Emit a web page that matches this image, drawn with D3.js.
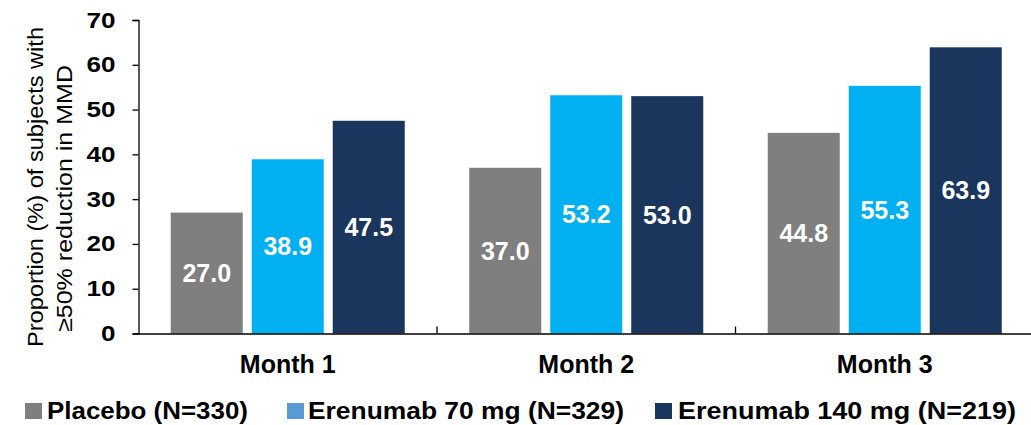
<!DOCTYPE html>
<html>
<head>
<meta charset="utf-8">
<script src="https://cdn.jsdelivr.net/npm/d3@7"></script>
<style>
  body { margin: 0; background: #fff; }
  svg { display: block; font-family: "Liberation Sans", Arial, sans-serif; }
</style>
</head>
<body>
<svg id="chart" width="1031" height="425"></svg>
<script>
const months = ["Month 1", "Month 2", "Month 3"];
const seriesNames = ["Placebo (N=330)", "Erenumab 70 mg (N=329)", "Erenumab 140 mg (N=219)"];
const placebo = [27.0, 37.0, 44.8];
const erenumab70 = [38.9, 53.2, 55.3];
const erenumab140 = [47.5, 53.0, 63.9];
const yTicks = [0, 10, 20, 30, 40, 50, 60, 70];

const barColors = ["#7f7f7f", "#00b0f0", "#1b365d"];
const legendColors = ["#7f7f7f", "#5b9bd5", "#1b365d"];
const seriesValues = [placebo, erenumab70, erenumab140];

const svg = d3.select("#chart");
const plotLeft = 138.5, plotRight = 1034, plotTop = 20, plotBottom = 333.5;

const x0 = d3.scaleBand().domain(months).range([plotLeft, plotRight]).paddingInner(0).paddingOuter(0);
const x1 = d3.scaleBand().domain(d3.range(3)).range([0, x0.bandwidth()]).paddingInner(0.111).paddingOuter(0.398);
const y = d3.scaleLinear().domain([0, 70]).range([plotBottom, plotTop]);

// bars and value labels
const groups = svg.append("g").selectAll("g").data(months).join("g")
  .attr("transform", d => `translate(${x0(d)},0)`);

groups.each(function(m, mi) {
  const g = d3.select(this);
  seriesValues.forEach((vals, si) => {
    const v = vals[mi];
    g.append("rect")
      .attr("x", x1(si)).attr("width", x1.bandwidth())
      .attr("y", y(v)).attr("height", y(0) - y(v))
      .attr("fill", barColors[si]);
    g.append("text")
      .attr("x", x1(si) + x1.bandwidth() / 2)
      .attr("y", (y(v) + y(0)) / 2)
      .attr("dy", "0.36em")
      .attr("text-anchor", "middle")
      .attr("fill", "#fff")
      .attr("font-weight", "bold")
      .attr("font-size", 25)
      .text(v.toFixed(1));
  });
});

// y axis
const yAxis = svg.append("g").attr("transform", `translate(${plotLeft},0)`)
  .call(d3.axisLeft(y).tickValues(yTicks).tickSize(6).tickPadding(17).tickFormat(d3.format("d")));
yAxis.select(".domain").attr("stroke", "#000").attr("stroke-width", 1.3);
yAxis.selectAll(".tick line").attr("stroke", "#000").attr("stroke-width", 1.3);
yAxis.selectAll(".tick text").attr("font-size", 22).attr("font-weight", "bold").attr("fill", "#000")
  .attr("font-family", "Liberation Sans, Arial, sans-serif")
  .attr("textLength", d => String(d).length * 14.5).attr("lengthAdjust", "spacingAndGlyphs");

// x axis
const xAxis = svg.append("g").attr("transform", `translate(0,${plotBottom})`)
  .call(d3.axisBottom(x0).tickSize(0).tickFormat(""));
xAxis.select(".domain").attr("stroke", "#000").attr("stroke-width", 1.3);
// separators between month groups
svg.append("g").selectAll("line").data(months.slice(1)).join("line")
  .attr("x1", d => x0(d)).attr("x2", d => x0(d))
  .attr("y1", plotBottom).attr("y2", plotBottom - 7)
  .attr("stroke", "#000").attr("stroke-width", 1.3);
svg.append("g").selectAll("text").data(months).join("text")
  .attr("x", d => x0(d) + x0.bandwidth() / 2)
  .attr("y", 373)
  .attr("text-anchor", "middle")
  .attr("font-size", 25).attr("font-weight", "bold").attr("fill", "#000")
  .text(d => d);

// y axis title, two rotated lines
const titleLines = [
  { text: "Proportion (%) of subjects with", x: 43, y: 347, len: 320 },
  { text: "≥50% reduction in MMD", x: 72, y: 332, len: 267 }
];
svg.append("g").selectAll("text").data(titleLines).join("text")
  .attr("transform", d => `translate(${d.x},${d.y}) rotate(-90)`)
  .attr("font-size", 22).attr("fill", "#000")
  .attr("textLength", d => d.len).attr("lengthAdjust", "spacingAndGlyphs")
  .text(d => d.text);

// legend
const legendX = [25, 287, 655];
const legendTextLen = [201, 316, 338];
const legend = svg.append("g").selectAll("g").data(seriesNames).join("g")
  .attr("transform", (d, i) => `translate(${legendX[i]},402)`);
legend.append("rect").attr("x", 0).attr("y", 1).attr("width", 17).attr("height", 16)
  .attr("fill", (d, i) => legendColors[i]);
legend.append("text").attr("x", (d, i) => [22, 21, 23][i]).attr("y", 16.5)
  .attr("font-size", 23).attr("font-weight", "bold").attr("fill", "#000")
  .attr("textLength", (d, i) => legendTextLen[i]).attr("lengthAdjust", "spacingAndGlyphs")
  .text(d => d);
</script>
</body>
</html>
